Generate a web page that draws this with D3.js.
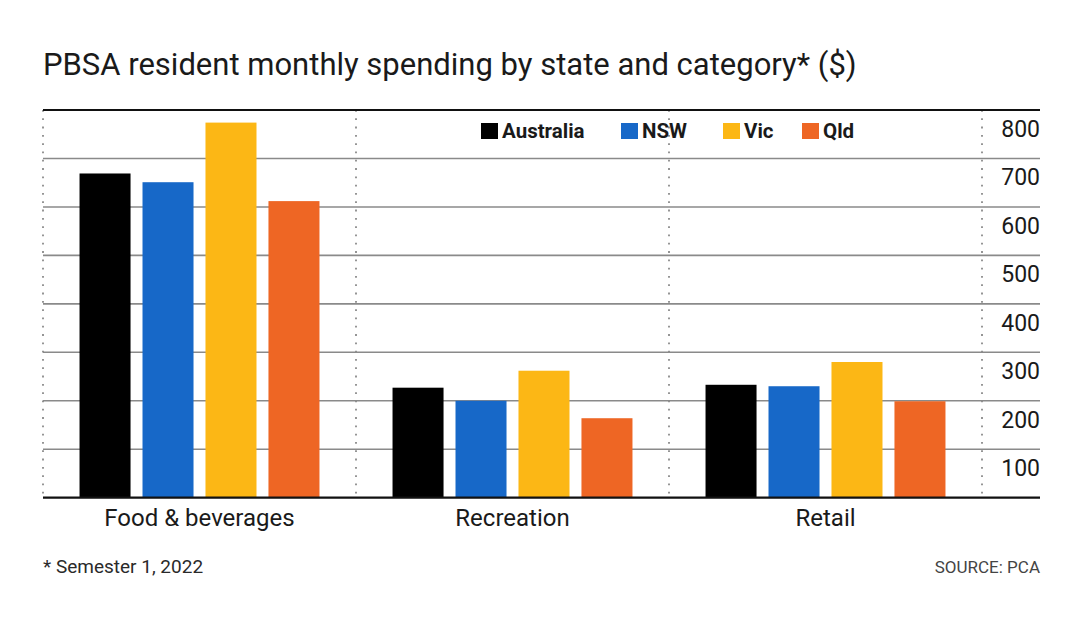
<!DOCTYPE html>
<html>
<head>
<meta charset="utf-8">
<script src="https://cdn.jsdelivr.net/npm/d3@7"></script>
<style>
  html, body { margin: 0; padding: 0; background: #fff; }
  svg { display: block; }
  text { font-family: Roboto, "Noto Sans", sans-serif; }
</style>
</head>
<body>
<svg id="chart" width="1080" height="624"></svg>
<script>
// ---- Data ----
const categories = ["Food & beverages", "Recreation", "Retail"];
const seriesNames = ["Australia", "NSW", "Vic", "Qld"];
const australia = [669, 227, 233];
const nsw       = [651, 200, 230];
const vic       = [774, 262, 280];
const qld       = [612, 164, 199];
const yTicks = [100, 200, 300, 400, 500, 600, 700, 800];
const title = "PBSA resident monthly spending by state and category* ($)";
const footnote = "* Semester 1, 2022";
const source = "SOURCE: PCA";

const seriesValues = [australia, nsw, vic, qld];
const colors = ["#000000", "#1768c8", "#fcb715", "#ee6624"];

(function () {
// ---- Layout ----
const svg = d3.select("#chart");
const mLeft = 43, plotRight = 982, mRight = 1040, mTop = 110, mBottom = 497.7;

const x0 = d3.scaleBand().domain(categories).range([mLeft, plotRight]).padding(0);
const x1 = d3.scaleBand().domain(seriesNames).range([0, x0.bandwidth()])
  .paddingInner(0.19).paddingOuter(0.58);
const y = d3.scaleLinear().domain([0, 800]).range([mBottom, mTop]);
const color = d3.scaleOrdinal().domain(seriesNames).range(colors);

// Title
svg.append("text").attr("x", 43).attr("y", 75)
  .attr("font-size", 31).attr("fill", "#1a1a1a").text(title);

// Gridlines (gray for inner ticks)
svg.append("g").selectAll("line").data(yTicks.filter(d => d < 800)).join("line")
  .attr("x1", mLeft).attr("x2", mRight)
  .attr("y1", d => y(d)).attr("y2", d => y(d))
  .attr("stroke", "#8a8a8a").attr("stroke-width", 1.6);

// Vertical dotted separators
const seps = categories.map(c => x0(c)).concat([plotRight]);
svg.append("g").selectAll("line").data(seps).join("line")
  .attr("x1", d => d).attr("x2", d => d)
  .attr("y1", y(800)).attr("y2", y(0))
  .attr("stroke", "#8a8a8a").attr("stroke-width", 1.8)
  .attr("stroke-dasharray", "1.8,6.5");

// Bars
const groups = svg.append("g").selectAll("g").data(categories).join("g")
  .attr("transform", c => `translate(${x0(c)},0)`);
groups.selectAll("rect")
  .data((c, i) => seriesNames.map((s, j) => ({ s, v: seriesValues[j][i] })))
  .join("rect")
  .attr("x", d => x1(d.s)).attr("width", x1.bandwidth())
  .attr("y", d => y(d.v)).attr("height", d => y(0) - y(d.v))
  .attr("fill", d => color(d.s));

// Top and bottom black rules
svg.append("g").selectAll("line").data([0, 800]).join("line")
  .attr("x1", mLeft).attr("x2", mRight)
  .attr("y1", d => y(d)).attr("y2", d => y(d))
  .attr("stroke", "#111").attr("stroke-width", 2.2);

// Y tick labels (right side, sitting below their gridline)
svg.append("g").selectAll("text").data(yTicks).join("text")
  .attr("x", mRight).attr("y", d => y(d) + 27)
  .attr("text-anchor", "end").attr("font-size", 23).attr("fill", "#1a1a1a")
  .text(d => d);

// Category labels
svg.append("g").selectAll("text").data(categories).join("text")
  .attr("x", c => x0(c) + x0.bandwidth() / 2).attr("y", 526)
  .attr("text-anchor", "middle").attr("font-size", 24).attr("fill", "#1a1a1a")
  .text(c => c);

// Legend
const legendX = [481, 621, 723, 802];
const lg = svg.append("g").selectAll("g").data(seriesNames).join("g")
  .attr("transform", (d, i) => `translate(${legendX[i]},123)`);
lg.append("rect").attr("width", 17).attr("height", 16).attr("fill", d => color(d));
lg.append("text").attr("x", 21).attr("y", 15).attr("font-size", 20.5)
  .attr("font-weight", 700).attr("fill", "#1a1a1a").text(d => d);

// Footnote & source
svg.append("text").attr("x", 43).attr("y", 573).attr("font-size", 19)
  .attr("fill", "#2a2a2a").text(footnote);
svg.append("text").attr("x", 1040).attr("y", 573).attr("font-size", 17)
  .attr("text-anchor", "end").attr("fill", "#444").text(source);
})();
</script>
</body>
</html>
